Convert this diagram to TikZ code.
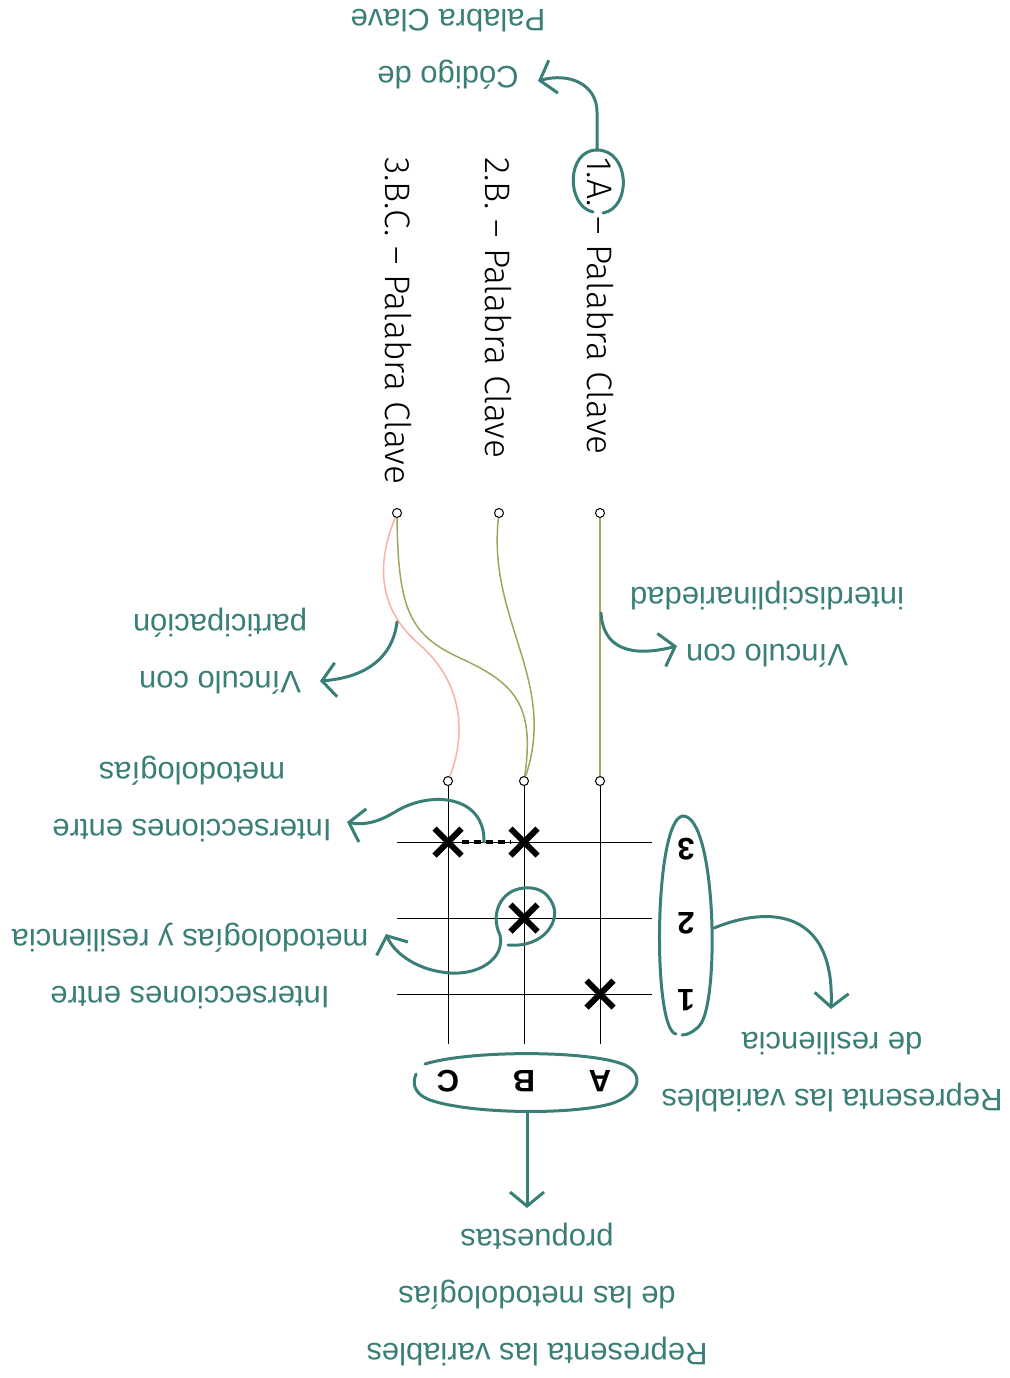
\documentclass[tikz,border=0pt]{standalone}
\usepackage{fontspec}
\setmainfont{Liberation Sans}
\newfontfamily\thinfont{Fira Sans Light}
\usetikzlibrary{arrows.meta,shapes.misc,positioning}
\definecolor{anota}{RGB}{58,127,119}
\definecolor{oliva}{RGB}{154,168,96}
\definecolor{rosa}{RGB}{250,176,166}

\begin{document}
\begin{tikzpicture}[x=1pt,y=-1pt,
    nota/.style={text=anota,font=\fontsize{31}{57}\selectfont,align=center,rotate=180,inner sep=0pt},
    clave/.style={font=\thinfont\fontsize{35.4}{40}\selectfont,rotate=-90,anchor=west,inner sep=0pt},
    eje/.style={font=\bfseries\fontsize{31}{31}\selectfont,rotate=180,inner sep=0pt},
    puerto/.style={circle,draw,fill=white,inner sep=0pt,minimum size=9pt,line width=1pt},
    marca/.style={cross out,draw,line width=6pt,minimum size=21pt,inner sep=0pt},
    rejilla/.style={line width=0.8pt},
    trazo/.style={anota,line width=3pt,line cap=round},
    flecha/.style={trazo,-{Straight Barb[length=14pt,width=34pt]}}]
  \useasboundingbox (0,0) rectangle (1009,1378);

  % palabras clave
  \node[clave] (k1) at (600,157) {1.A. – Palabra Clave};
  \node[clave] (k2) at (498,157) {2.B. – Palabra Clave};
  \node[clave] (k3) at (398,157) {3.B.C. – Palabra Clave};

  % puertos
  \node[puerto] (pa) at (600,513) {};
  \node[puerto] (pb) at (499,513) {};
  \node[puerto] (pc) at (397,513) {};
  \node[puerto] (qa) at (600,781) {};
  \node[puerto] (qb) at (524,781) {};
  \node[puerto] (qc) at (448,781) {};

  % conexiones
  \draw[oliva,line width=1.5pt] (pa) -- (qa);
  \draw[oliva,line width=1.5pt] (pb) .. controls (487,620) and (558,680) .. (qb);
  \draw[oliva,line width=1.5pt] (pc) .. controls (398,610) and (410,635) .. (460,658)
    .. controls (515,683) and (535,705) .. (qb);
  \draw[rosa,line width=1.5pt] (pc) .. controls (372,575) and (385,615) .. (420,645)
    .. controls (460,680) and (468,730) .. (qc);

  % rejilla
  \coordinate (fa) at (600,1044);
  \coordinate (fb) at (524,1044);
  \coordinate (fc) at (448,1044);
  \draw[rejilla] (qa) -- (fa);
  \draw[rejilla] (qb) -- (fb);
  \draw[rejilla] (qc) -- (fc);
  \foreach \f/\y in {3/842,2/918,1/994}{
    \coordinate (h\f l) at (397,\y);
    \coordinate (h\f r) at (652,\y);
    \draw[rejilla] (h\f l) -- (h\f r);
  }

  % marcas
  \node[marca] (mc3) at (448,842) {};
  \node[marca] (mb3) at (524,842) {};
  \node[marca] (mb2) at (524,918) {};
  \node[marca] (ma1) at (600,994) {};
  \draw[line width=3.5pt,dash pattern=on 7pt off 5pt] (mc3) -- (mb3);

  % ejes
  \node[eje] (n3) at (686,849) {3};
  \node[eje] (n2) at (686,923) {2};
  \node[eje] (n1) at (686,1000) {1};
  \node[eje] (la) at (600,1081) {A};
  \node[eje] (lb) at (524,1081) {B};
  \node[eje] (lc) at (448,1081) {C};

  % notas
  \node[nota] (codigo) at (448,49) {Código de\\Palabra Clave};
  \node[nota] (interdis) at (767,624) {Vínculo con\\interdisciplinariedad};
  \node[nota] (particip) at (220,651) {Vínculo con\\participación};
  \node[nota] (inter1) at (192,799) {Intersecciones entre\\metodologías};
  \node[nota] (inter2) at (190,966) {Intersecciones entre\\metodologías y resiliencia};
  \node[nota] (varres) at (832,1072) {Representa las variables\\de resiliencia};
  \node[nota] (varmet) at (537,1294) {Representa las variables\\de las metodologías\\propuestas};

  % lazos
  \draw[trazo] (593,212) .. controls (566,206) and (566,150) .. (597,150)
    .. controls (630,150) and (632,208) .. (603,213);
  \draw[trazo] (676,1034) .. controls (652,1030) and (654,818) .. (683,816)
    .. controls (716,816) and (720,1000) .. (700,1025)
    .. controls (695,1031) and (688,1035) .. (682,1035);
  \draw[trazo] (425,1064) .. controls (470,1050) and (590,1050) .. (625,1065)
    .. controls (645,1075) and (640,1095) .. (610,1104)
    .. controls (570,1115) and (470,1114) .. (430,1100)
    .. controls (412,1093) and (413,1082) .. (416,1074);

  % flechas
  \coordinate (lazo1) at (597,150);
  \coordinate (tcodigo) at (538,81);
  \draw[flecha] (lazo1) -- (597,112) .. controls (597,85) and (570,72) .. (tcodigo);
  \coordinate (sinter) at (601,613);
  \coordinate (tinter) at (677,646);
  \draw[flecha] (sinter) .. controls (603,648) and (630,658) .. (tinter);
  \coordinate (spart) at (397,622);
  \coordinate (tpart) at (320,681);
  \draw[flecha] (spart) .. controls (392,662) and (360,678) .. (tpart);
  \coordinate (sint1) at (484,842);
  \coordinate (tint1) at (347,822);
  \draw[flecha] (sint1) .. controls (485,795) and (430,790) .. (395,812)
    .. controls (380,821) and (365,826) .. (tint1);
  \coordinate (sint2) at (508,945);
  \coordinate (tint2) at (386,934);
  \draw[flecha] (sint2) .. controls (545,948) and (560,920) .. (553,905)
    .. controls (547,890) and (535,887) .. (524,888)
    .. controls (500,890) and (490,915) .. (500,935)
    .. controls (505,958) and (480,975) .. (450,973)
    .. controls (420,971) and (395,955) .. (tint2);
  \coordinate (sres) at (714,928);
  \coordinate (tres) at (831,1009);
  \draw[flecha] (sres) .. controls (770,905) and (835,910) .. (tres);
  \coordinate (smet) at (527,1112);
  \coordinate (tmet) at (527,1208);
  \draw[flecha] (smet) -- (tmet);
\end{tikzpicture}
\end{document}
